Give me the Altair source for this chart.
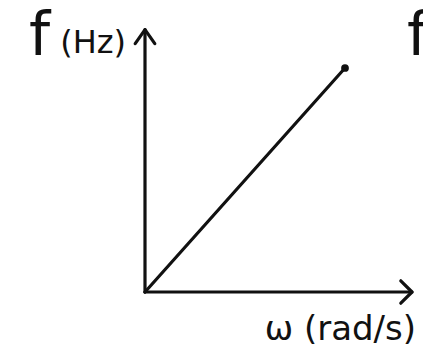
import altair as alt
import pandas as pd

# Angular frequency (rad/s) and frequency (Hz) at the two ends of the line
omega = [0.0, 10.0]
freq = [0.0, 1.59]

# Axis extents (data units) where the arrowheads sit
omega_axis_end = 13.35
freq_axis_end = 1.862

ink = "#111111"
W, H = 423, 354

xs = alt.Scale(domain=[0, 10], range=[145, 345])
ys = alt.Scale(domain=[0, 1.59], range=[292, 68])

line_df = pd.DataFrame({"omega": omega, "freq": freq})
end_df = line_df.tail(1)

axes_df = pd.DataFrame({
    "x0": [0.0, 0.0], "y0": [0.0, 0.0],
    "x1": [0.0, omega_axis_end], "y1": [freq_axis_end, 0.0],
})

x_enc = lambda f: alt.X(f, type="quantitative", scale=xs, axis=None)
y_enc = lambda f: alt.Y(f, type="quantitative", scale=ys, axis=None)

axes = alt.Chart(axes_df).mark_rule(color=ink, strokeWidth=3.2, strokeCap="round").encode(
    x=x_enc("x0"), y=y_enc("y0"), x2="x1", y2="y1"
)

up_head = alt.Chart(pd.DataFrame({"x": [0.0], "y": [freq_axis_end]})).mark_point(
    shape="M-0.7,1L0,0L0.7,1", size=784, filled=False, color=ink,
    strokeWidth=3.2, opacity=1, strokeCap="round", strokeJoin="round"
).encode(x=x_enc("x"), y=y_enc("y"))

right_head = alt.Chart(pd.DataFrame({"x": [omega_axis_end], "y": [0.0]})).mark_point(
    shape="M-0.8,-0.8L0,0L-0.8,0.8", size=784, filled=False, color=ink,
    strokeWidth=3.2, opacity=1, strokeCap="round", strokeJoin="round"
).encode(x=x_enc("x"), y=y_enc("y"))

line = alt.Chart(line_df).mark_line(color=ink, strokeWidth=3.2, strokeCap="round").encode(
    x=x_enc("omega"), y=y_enc("freq")
)

dot = alt.Chart(end_df).mark_circle(color=ink, size=60, opacity=1).encode(
    x=x_enc("omega"), y=y_enc("freq")
)

font = "DejaVu Sans"
lbl_df = pd.DataFrame({"x": [0.0], "y": [freq_axis_end]})
f_big = alt.Chart(lbl_df).mark_text(
    text="f", font=font, fontSize=60, color=ink, align="right", baseline="alphabetic",
    dx=-95, dy=25
).encode(x=x_enc("x"), y=y_enc("y"))
hz = alt.Chart(lbl_df).mark_text(
    text="(Hz)", font=font, fontSize=32, color=ink, align="right", baseline="alphabetic",
    dx=-19, dy=23
).encode(x=x_enc("x"), y=y_enc("y"))

x_lbl_df = pd.DataFrame({"x": [omega_axis_end], "y": [0.0]})
w_lbl = alt.Chart(x_lbl_df).mark_text(
    text="ω (rad/s)", font=font, fontSize=34, color=ink, align="right",
    baseline="alphabetic", dx=4, dy=48
).encode(x=x_enc("x"), y=y_enc("y"))

# Letter of a neighbouring sketch peeking in at the right edge
f_edge = alt.Chart(lbl_df).mark_text(
    text="f", font=font, fontSize=60, color=ink, align="left", baseline="alphabetic",
    dx=262, dy=25
).encode(x=x_enc("x"), y=y_enc("y"))

chart = alt.layer(axes, up_head, right_head, line, dot, f_big, hz, w_lbl, f_edge).properties(
    width=W, height=H, autosize=alt.AutoSizeParams(type="none"), padding=0,
    background="white"
).configure_view(stroke=None)

chart.save("out.html", embed_options={"renderer": "svg", "actions": False})
